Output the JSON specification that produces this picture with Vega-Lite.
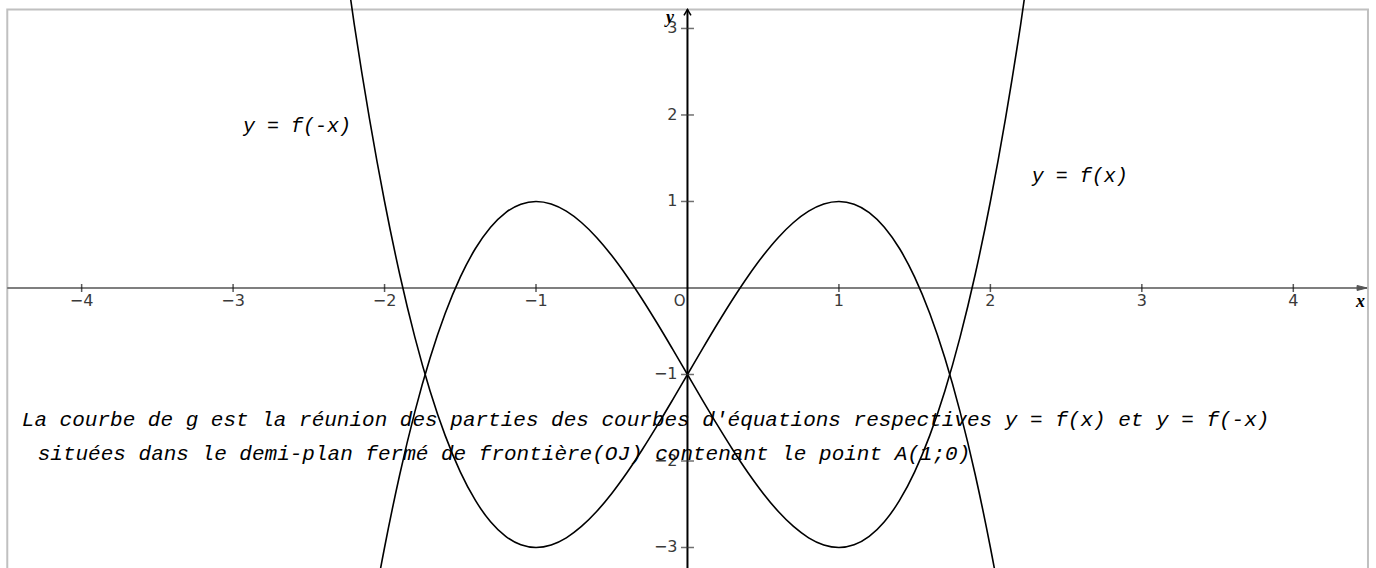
{
  "$schema": "https://vega.github.io/schema/vega-lite/v6.json",
  "width": 1376,
  "height": 568,
  "autosize": {"type": "fit", "contains": "padding"},
  "padding": 0,
  "background": "white",
  "config": {"view": {"stroke": null}},
  "datasets": {
    "courbes": [
      {"courbe": "f(x)", "x": -2.4, "y": -7.624}, {"courbe": "f(x)", "x": -2.3, "y": -6.267}, {"courbe": "f(x)", "x": -2.2, "y": -5.048},
      {"courbe": "f(x)", "x": -2.1, "y": -3.961}, {"courbe": "f(x)", "x": -2.0, "y": -3.0}, {"courbe": "f(x)", "x": -1.9, "y": -2.159},
      {"courbe": "f(x)", "x": -1.8, "y": -1.432}, {"courbe": "f(x)", "x": -1.7, "y": -0.813}, {"courbe": "f(x)", "x": -1.6, "y": -0.296},
      {"courbe": "f(x)", "x": -1.5, "y": 0.125}, {"courbe": "f(x)", "x": -1.4, "y": 0.456}, {"courbe": "f(x)", "x": -1.3, "y": 0.703},
      {"courbe": "f(x)", "x": -1.2, "y": 0.872}, {"courbe": "f(x)", "x": -1.1, "y": 0.969}, {"courbe": "f(x)", "x": -1.0, "y": 1.0},
      {"courbe": "f(x)", "x": -0.9, "y": 0.971}, {"courbe": "f(x)", "x": -0.8, "y": 0.888}, {"courbe": "f(x)", "x": -0.7, "y": 0.757},
      {"courbe": "f(x)", "x": -0.6, "y": 0.584}, {"courbe": "f(x)", "x": -0.5, "y": 0.375}, {"courbe": "f(x)", "x": -0.4, "y": 0.136},
      {"courbe": "f(x)", "x": -0.3, "y": -0.127}, {"courbe": "f(x)", "x": -0.2, "y": -0.408}, {"courbe": "f(x)", "x": -0.1, "y": -0.701},
      {"courbe": "f(x)", "x": 0.0, "y": -1.0}, {"courbe": "f(x)", "x": 0.1, "y": -1.299}, {"courbe": "f(x)", "x": 0.2, "y": -1.592},
      {"courbe": "f(x)", "x": 0.3, "y": -1.873}, {"courbe": "f(x)", "x": 0.4, "y": -2.136}, {"courbe": "f(x)", "x": 0.5, "y": -2.375},
      {"courbe": "f(x)", "x": 0.6, "y": -2.584}, {"courbe": "f(x)", "x": 0.7, "y": -2.757}, {"courbe": "f(x)", "x": 0.8, "y": -2.888},
      {"courbe": "f(x)", "x": 0.9, "y": -2.971}, {"courbe": "f(x)", "x": 1.0, "y": -3.0}, {"courbe": "f(x)", "x": 1.1, "y": -2.969},
      {"courbe": "f(x)", "x": 1.2, "y": -2.872}, {"courbe": "f(x)", "x": 1.3, "y": -2.703}, {"courbe": "f(x)", "x": 1.4, "y": -2.456},
      {"courbe": "f(x)", "x": 1.5, "y": -2.125}, {"courbe": "f(x)", "x": 1.6, "y": -1.704}, {"courbe": "f(x)", "x": 1.7, "y": -1.187},
      {"courbe": "f(x)", "x": 1.8, "y": -0.568}, {"courbe": "f(x)", "x": 1.9, "y": 0.159}, {"courbe": "f(x)", "x": 2.0, "y": 1.0},
      {"courbe": "f(x)", "x": 2.1, "y": 1.961}, {"courbe": "f(x)", "x": 2.2, "y": 3.048}, {"courbe": "f(x)", "x": 2.3, "y": 4.267},
      {"courbe": "f(x)", "x": 2.4, "y": 5.624},
      {"courbe": "f(-x)", "x": -2.4, "y": 5.624}, {"courbe": "f(-x)", "x": -2.3, "y": 4.267}, {"courbe": "f(-x)", "x": -2.2, "y": 3.048},
      {"courbe": "f(-x)", "x": -2.1, "y": 1.961}, {"courbe": "f(-x)", "x": -2.0, "y": 1.0}, {"courbe": "f(-x)", "x": -1.9, "y": 0.159},
      {"courbe": "f(-x)", "x": -1.8, "y": -0.568}, {"courbe": "f(-x)", "x": -1.7, "y": -1.187}, {"courbe": "f(-x)", "x": -1.6, "y": -1.704},
      {"courbe": "f(-x)", "x": -1.5, "y": -2.125}, {"courbe": "f(-x)", "x": -1.4, "y": -2.456}, {"courbe": "f(-x)", "x": -1.3, "y": -2.703},
      {"courbe": "f(-x)", "x": -1.2, "y": -2.872}, {"courbe": "f(-x)", "x": -1.1, "y": -2.969}, {"courbe": "f(-x)", "x": -1.0, "y": -3.0},
      {"courbe": "f(-x)", "x": -0.9, "y": -2.971}, {"courbe": "f(-x)", "x": -0.8, "y": -2.888}, {"courbe": "f(-x)", "x": -0.7, "y": -2.757},
      {"courbe": "f(-x)", "x": -0.6, "y": -2.584}, {"courbe": "f(-x)", "x": -0.5, "y": -2.375}, {"courbe": "f(-x)", "x": -0.4, "y": -2.136},
      {"courbe": "f(-x)", "x": -0.3, "y": -1.873}, {"courbe": "f(-x)", "x": -0.2, "y": -1.592}, {"courbe": "f(-x)", "x": -0.1, "y": -1.299},
      {"courbe": "f(-x)", "x": 0.0, "y": -1.0}, {"courbe": "f(-x)", "x": 0.1, "y": -0.701}, {"courbe": "f(-x)", "x": 0.2, "y": -0.408},
      {"courbe": "f(-x)", "x": 0.3, "y": -0.127}, {"courbe": "f(-x)", "x": 0.4, "y": 0.136}, {"courbe": "f(-x)", "x": 0.5, "y": 0.375},
      {"courbe": "f(-x)", "x": 0.6, "y": 0.584}, {"courbe": "f(-x)", "x": 0.7, "y": 0.757}, {"courbe": "f(-x)", "x": 0.8, "y": 0.888},
      {"courbe": "f(-x)", "x": 0.9, "y": 0.971}, {"courbe": "f(-x)", "x": 1.0, "y": 1.0}, {"courbe": "f(-x)", "x": 1.1, "y": 0.969},
      {"courbe": "f(-x)", "x": 1.2, "y": 0.872}, {"courbe": "f(-x)", "x": 1.3, "y": 0.703}, {"courbe": "f(-x)", "x": 1.4, "y": 0.456},
      {"courbe": "f(-x)", "x": 1.5, "y": 0.125}, {"courbe": "f(-x)", "x": 1.6, "y": -0.296}, {"courbe": "f(-x)", "x": 1.7, "y": -0.813},
      {"courbe": "f(-x)", "x": 1.8, "y": -1.432}, {"courbe": "f(-x)", "x": 1.9, "y": -2.159}, {"courbe": "f(-x)", "x": 2.0, "y": -3.0},
      {"courbe": "f(-x)", "x": 2.1, "y": -3.961}, {"courbe": "f(-x)", "x": 2.2, "y": -5.048}, {"courbe": "f(-x)", "x": 2.3, "y": -6.267},
      {"courbe": "f(-x)", "x": 2.4, "y": -7.624}
    ],
    "graduationsX": [
      {"x": -4, "y": 0, "label": "−4"}, {"x": -3, "y": 0, "label": "−3"}, {"x": -2, "y": 0, "label": "−2"}, {"x": -1, "y": 0, "label": "−1"},
      {"x": 1, "y": 0, "label": "1"}, {"x": 2, "y": 0, "label": "2"}, {"x": 3, "y": 0, "label": "3"}, {"x": 4, "y": 0, "label": "4"}
    ],
    "graduationsY": [
      {"x": 0, "y": 3, "label": "3"}, {"x": 0, "y": 2, "label": "2"}, {"x": 0, "y": 1, "label": "1"},
      {"x": 0, "y": -1, "label": "−1"}, {"x": 0, "y": -2, "label": "−2"}, {"x": 0, "y": -3, "label": "−3"}
    ],
    "legendes": [
      {"x": -2.935, "y": 1.807, "texte": "y = f(-x)"},
      {"x": 2.273, "y": 1.229, "texte": "y = f(x)"}
    ],
    "commentaire": [
      {"x": -4.395, "y": -1.595, "texte": "La courbe de g est la réunion des parties des courbes d'équations respectives y = f(x) et y = f(-x)"},
      {"x": -4.29, "y": -1.99, "texte": "situées dans le demi-plan fermé de frontière(OJ) contenant le point A(1;0)"}
    ]
  },
  "encoding": {
    "x": {"field": "x", "type": "quantitative", "scale": {"domain": [-4.539, 4.546], "nice": false, "zero": false}, "axis": null},
    "y": {"field": "y", "type": "quantitative", "scale": {"domain": [-3.237, 3.329], "nice": false, "zero": false}, "axis": null}
  },
  "layer": [
    {
      "data": {"values": [{"x": -4.491, "x2": 4.493, "y": 3.219, "y2": -4}]},
      "mark": {"type": "rect", "filled": false, "stroke": "#c0c0c0", "strokeWidth": 2, "clip": true},
      "encoding": {"x2": {"field": "x2"}, "y2": {"field": "y2"}}
    },
    {
      "data": {"values": [{"x": -4.491, "x2": 4.487, "y": 0}]},
      "mark": {"type": "rule", "stroke": "#555555", "strokeWidth": 1.5},
      "encoding": {"x2": {"field": "x2"}}
    },
    {
      "data": {"values": [{"x": 0, "y": -3.4, "y2": 3.219}]},
      "mark": {"type": "rule", "stroke": "black", "strokeWidth": 2, "clip": true},
      "encoding": {"y2": {"field": "y2"}}
    },
    {
      "data": {"name": "courbes"},
      "mark": {"type": "line", "stroke": "black", "strokeWidth": 1.6, "interpolate": "monotone", "clip": true},
      "encoding": {"detail": {"field": "courbe", "type": "nominal"}}
    },
    {
      "data": {"name": "graduationsX"},
      "mark": {"type": "tick", "orient": "vertical", "size": 8, "thickness": 1.5, "color": "#111111"}
    },
    {
      "data": {"name": "graduationsX"},
      "mark": {"type": "text", "align": "center", "baseline": "middle", "dy": 13, "font": "DejaVu Sans", "fontSize": 16, "fill": "#3a3a3a"},
      "encoding": {"text": {"field": "label"}}
    },
    {
      "data": {"name": "graduationsY"},
      "mark": {"type": "tick", "orient": "horizontal", "size": 13, "thickness": 1.5, "color": "#333333"}
    },
    {
      "data": {"name": "graduationsY"},
      "mark": {"type": "text", "align": "right", "baseline": "middle", "dx": -10, "font": "DejaVu Sans", "fontSize": 16, "fill": "#3a3a3a"},
      "encoding": {"text": {"field": "label"}}
    },
    {
      "data": {"values": [{"x": 0, "y": 0, "label": "O"}]},
      "mark": {"type": "text", "align": "right", "baseline": "middle", "dx": -2, "dy": 13, "font": "DejaVu Sans", "fontSize": 15, "fill": "#3a3a3a"},
      "encoding": {"text": {"field": "label"}}
    },
    {
      "data": {"values": [{"x": 0, "y": 3.219}]},
      "mark": {"type": "point", "shape": "M-1,1.7L0,0L1,1.7", "size": 49, "filled": false, "stroke": "black", "strokeWidth": 1.5, "opacity": 1}
    },
    {
      "data": {"values": [{"x": 4.487, "y": 0}]},
      "mark": {"type": "point", "shape": "M-4,-1L0,0L-4,1Z", "size": 25, "filled": true, "fill": "#555555", "stroke": "#555555", "strokeWidth": 1, "opacity": 1}
    },
    {
      "data": {"values": [{"x": -0.116, "y": 3.06, "label": "y"}, {"x": 4.444, "y": -0.22, "label": "x"}]},
      "mark": {"type": "text", "align": "center", "baseline": "alphabetic", "font": "Liberation Serif", "fontStyle": "italic", "fontWeight": "bold", "fontSize": 18, "fill": "black"},
      "encoding": {"text": {"field": "label"}}
    },
    {
      "data": {"name": "legendes"},
      "mark": {"type": "text", "align": "left", "baseline": "alphabetic", "font": "Liberation Mono", "fontStyle": "italic", "fontSize": 20, "fill": "black"},
      "encoding": {"text": {"field": "texte"}}
    },
    {
      "data": {"name": "commentaire"},
      "mark": {"type": "text", "align": "left", "baseline": "alphabetic", "font": "Liberation Mono", "fontStyle": "italic", "fontSize": 21, "fill": "black"},
      "encoding": {"text": {"field": "texte"}}
    }
  ]
}
